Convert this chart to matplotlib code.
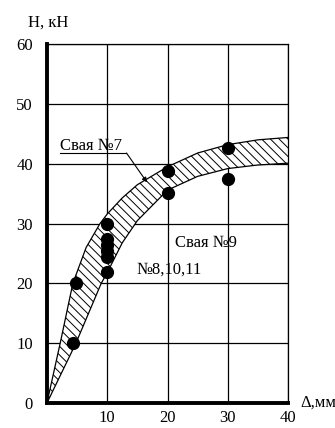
import numpy as np
import matplotlib
matplotlib.use('Agg')
import matplotlib.pyplot as plt

plt.rcParams['font.family'] = ['Liberation Serif', 'DejaVu Serif']

# upper boundary of the band (pile No7)
upper_x = [0, 2.2, 4.3, 6.5, 8.8, 10, 12.5, 15, 20, 25, 30, 35, 40]
upper_y = [0, 10, 20, 26, 30, 31.6, 34.3, 36.5, 39.5, 41.8, 43.2, 44.0, 44.4]
# lower boundary of the band (pile No9)
lower_x = [0, 4.8, 9, 10, 12.5, 15, 20, 25, 30, 35, 40]
lower_y = [0, 10, 20, 21.8, 26.8, 30.5, 35.6, 37.9, 39.2, 39.8, 40.1]

# test points
pts_x = [4.4, 4.9, 10, 10, 10, 10, 10, 10, 20, 20, 30, 30]
pts_y = [10, 20, 30, 27.5, 26.5, 25.5, 24.5, 22, 38.8, 35.1, 42.6, 37.5]

xticks = [10, 20, 30, 40]
yticks = [0, 10, 20, 30, 40, 50, 60]

fig = plt.figure(figsize=(3.35, 4.28), dpi=100)
ax = fig.add_axes([0.140, 0.058, 0.720, 0.839])

ax.set_xlim(0, 40)
ax.set_ylim(0, 60)
ax.set_xticks(xticks)
ax.set_yticks(yticks)
ax.tick_params(length=0, labelsize=12)
ax.tick_params(axis='x', pad=5)
ax.tick_params(axis='y', pad=10)
ax.grid(True, color='black', lw=0.9)
ax.set_axisbelow(True)

for s in ['top', 'right']:
    ax.spines[s].set_linewidth(0.9)
for s in ['left', 'bottom']:
    ax.spines[s].set_linewidth(2.8)

# band between the two curves, white fill + hand hatching
band_x = np.concatenate([upper_x, lower_x[::-1]])
band_y = np.concatenate([upper_y, lower_y[::-1]])
band = ax.fill(band_x, band_y, facecolor='white', edgecolor='none', zorder=2)[0]
for c in np.arange(0, 95, 1.45):
    hl, = ax.plot([0, 50], [c, c - 50], color='black', lw=0.7, zorder=2.5)
    hl.set_clip_path(band)
ax.plot(upper_x, upper_y, color='black', lw=0.9, zorder=3)
ax.plot(lower_x, lower_y, color='black', lw=0.9, zorder=3)

ax.plot(pts_x, pts_y, 'o', color='black', ms=8.5, zorder=4, clip_on=False)

# labels
ax.text(2.2, 42.3, 'Свая №7', fontsize=12, ha='left', va='baseline', zorder=5)
ax.plot([2.2, 13.2], [41.8, 41.8], color='black', lw=0.8, zorder=5)
ax.annotate('', xy=(16.6, 36.9), xytext=(13.2, 41.8),
            arrowprops=dict(arrowstyle='-|>', color='black', lw=0.8,
                            mutation_scale=7, shrinkA=0, shrinkB=0), zorder=5)
ax.text(21.2, 26.8, 'Свая №9', fontsize=12, ha='left', va='center', zorder=5)
ax.text(14.9, 22.3, '№8,10,11', fontsize=12, ha='left', va='center', zorder=5)

fig.text(28 / 335, 1 - 23 / 428, 'H, кН', fontsize=12, ha='left', va='center')
fig.text(300 / 335, 1 - 403 / 428, 'Δ,мм', fontsize=12, ha='left', va='center')

fig.savefig('out.png', dpi=100)
